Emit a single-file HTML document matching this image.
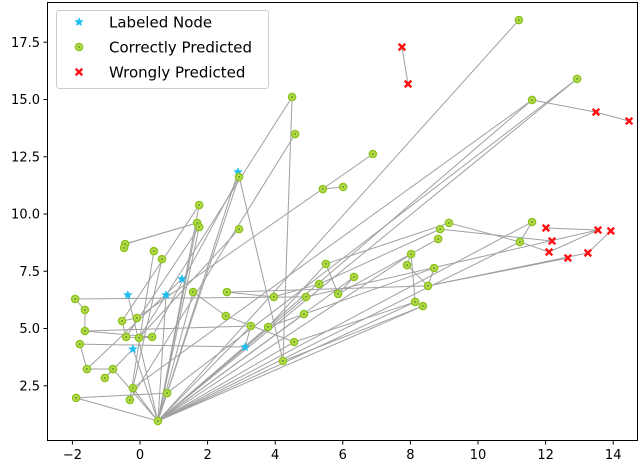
<!DOCTYPE html>
<html><head><meta charset="utf-8">
<style>
html,body{margin:0;padding:0;background:#fff;}
svg{display:block;font-family:"DejaVu Sans","Liberation Sans",sans-serif;}
</style></head>
<body>
<svg id="chart" width="640" height="468" viewBox="0 0 640 468">
<g id="edges"></g>
<g id="nodes"></g>
<rect x="47.5" y="2.5" width="590" height="438" fill="none" stroke="#000" stroke-width="1"/>
<g id="xticks"></g>
<g id="yticks"></g>
<g>
<rect x="56.5" y="10.5" width="212" height="78" rx="3" fill="#fff" fill-opacity="0.8" stroke="#ccc"/>
<g id="legend-items"></g>
</g>
</svg>
<script>
const xTicks=[-2,0,2,4,6,8,10,12,14];
const yTicks=[2.5,5.0,7.5,10.0,12.5,15.0,17.5];
const nodeX=[2.90,2.93,1.75,1.69,1.75,2.93,-0.44,-0.47,0.41,0.65,1.24,1.57,-0.36,0.77,2.57,3.96,-1.92,-1.63,-0.09,-0.53,2.54,-1.63,3.28,3.79,-0.41,-0.03,0.36,3.11,-0.21,-1.78,4.56,4.23,-1.57,-0.80,-1.04,-0.21,0.80,-1.89,-0.30,0.53,5.41,6.01,9.14,8.88,8.82,11.60,12.01,12.19,11.24,12.10,12.66,13.25,13.55,13.93,8.02,7.90,8.70,5.50,6.33,5.30,8.52,5.86,4.91,4.85,8.14,8.37,11.21,12.93,11.60,4.50,4.59,6.89,7.75,7.93,13.49,14.47];
const nodeY=[11.83,11.62,10.39,9.61,9.43,9.34,8.69,8.52,8.38,8.03,7.16,6.59,6.46,6.46,6.59,6.38,6.29,5.81,5.46,5.33,5.55,4.89,5.11,5.07,4.63,4.59,4.63,4.19,4.10,4.32,4.41,3.58,3.23,3.23,2.84,2.40,2.18,1.97,1.88,0.96,11.09,11.18,9.61,9.34,8.91,9.65,9.39,8.82,8.78,8.34,8.08,8.30,9.30,9.26,8.25,7.77,7.64,7.82,7.25,6.94,6.86,6.51,6.38,5.63,6.16,5.98,18.47,15.90,14.98,15.11,13.49,12.62,17.29,15.68,14.45,14.06];
const nodeKind="L"+"C".repeat(9)+"L"+"C"+"LL"+"C".repeat(13)+"LL"+"C".repeat(17)+"WW"+"C"+"WWWWW"+"C".repeat(18)+"WWWW";
const edgeFrom=[72,74,40,39,39,39,39,39,39,39,39,39,39,39,39,39,39,39,39,39,39,39,39,39,39,39,39,39,0,0,1,5,2,3,4,8,9,10,11,14,14,16,16,17,21,21,22,27,29,32,33,34,37,37,18,19,24,25,20,23,57,59,58,54,55,56,54,60,60,61,42,43,48,48,46,53,52,62,61,69,70,71,69,67,68,31,30,15,23,6,74];
const edgeTo=  [73,75,41,66,67,68,1,3,4,2,23,22,30,62,63,58,54,64,65,48,45,12,13,28,35,36,33,11,31,36,26,25,19,6,24,38,35,32,20,15,60,17,62,21,26,22,27,29,32,33,34,28,36,39,19,24,25,26,30,57,42,43,61,55,60,60,64,50,51,44,48,47,45,49,52,51,49,52,57,31,38,18,25,36,35,65,64,59,56,3,68];

function sx(v){return 140+33.8*v;}
function sy(v){return 443-22.9*v;}
const NS="http://www.w3.org/2000/svg";
function mk(tag,attrs,parent){const e=document.createElementNS(NS,tag);for(const k in attrs)e.setAttribute(k,attrs[k]);parent.appendChild(e);return e;}

const eg=document.getElementById('edges');
for(let i=0;i<edgeFrom.length;i++){
  const a=edgeFrom[i],b=edgeTo[i];
  const l=mk('line',{x1:sx(nodeX[a]),y1:sy(nodeY[a]),x2:sx(nodeX[b]),y2:sy(nodeY[b]),stroke:'#a0a0a0','stroke-width':1},eg);
  
  
}
function starPts(cx,cy,R,r){let p=[];for(let i=0;i<10;i++){const ang=-Math.PI/2+i*Math.PI/5;const rr=i%2?r:R;p.push((cx+rr*Math.cos(ang)).toFixed(1)+','+(cy+rr*Math.sin(ang)).toFixed(1));}return p.join(' ');}
function drawMarker(kind,cx,cy,parent){
  let g;
  if(kind==='L'){g=mk('polygon',{points:starPts(cx,cy,5,2.2),fill:'#1ebef5'},parent);}
  else if(kind==='C'){g=mk('g',{},parent);mk('circle',{cx:cx,cy:cy,r:3.6,fill:'#b5dc50',stroke:'#8cc21e','stroke-width':1.4},g);mk('circle',{cx:cx,cy:cy,r:1,fill:'#6a9a10'},g);}
  else {g=mk('g',{stroke:'#ff1010','stroke-width':2.4},parent);mk('line',{x1:cx-3.3,y1:cy-3.3,x2:cx+3.3,y2:cy+3.3},g);mk('line',{x1:cx-3.3,y1:cy+3.3,x2:cx+3.3,y2:cy-3.3},g);}
  return g;
}
const ng=document.getElementById('nodes');
for(let i=0;i<nodeX.length;i++){
  const k=nodeKind[i];
  const m=drawMarker(k,sx(nodeX[i]),sy(nodeY[i]),ng);
  
  
}
const xg=document.getElementById('xticks');
xTicks.forEach(v=>{
  const x=sx(v);
  mk('line',{x1:x,y1:440.5,x2:x,y2:444.5,stroke:'#000'},xg);
  const t=mk('text',{x:x,y:459,'text-anchor':'middle','font-size':13,fill:'#000'},xg);
  t.textContent=(v<0?'\u2212'+(-v):String(v));
  
  
});
const yg=document.getElementById('yticks');
yTicks.forEach(v=>{
  const y=sy(v);
  mk('line',{x1:43.5,y1:y,x2:47.5,y2:y,stroke:'#000'},yg);
  const t=mk('text',{x:40,y:y+4.5,'text-anchor':'end','font-size':13,fill:'#000'},yg);
  t.textContent=v.toFixed(1);
  
  
});
const legendLabels=['Labeled Node','Correctly Predicted','Wrongly Predicted'];
const legendKinds=['L','C','W'];
const lg=document.getElementById('legend-items');
legendLabels.forEach((s,i)=>{
  const y=22+i*25;
  const m=drawMarker(legendKinds[i],79,y,lg);
  
  
  const t=mk('text',{x:109,y:y+5.5,'font-size':15,fill:'#000'},lg);
  t.textContent=s;
  
  
});
</script>
</body></html>
